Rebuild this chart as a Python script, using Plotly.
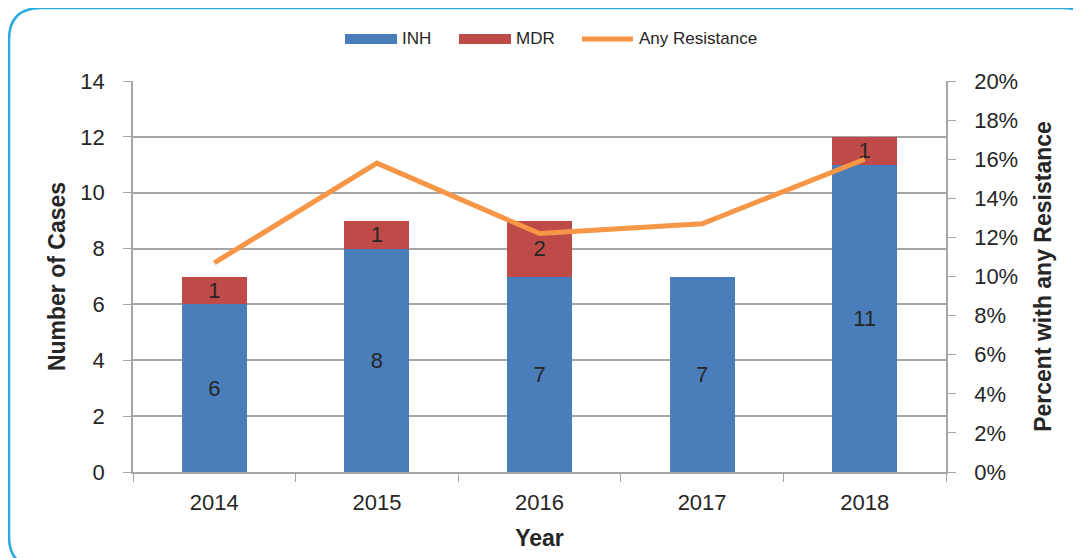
import plotly.graph_objects as go

years = ["2014", "2015", "2016", "2017", "2018"]
inh = [6, 8, 7, 7, 11]
mdr = [1, 1, 2, 0, 1]
any_res = [0.107, 0.158, 0.122, 0.127, 0.160]

FONT = "Liberation Sans"
TXT = "#262626"
GRID = "#A6A6A6"

# page offset (body margin) of 8px: reference px -> figure px
OFF = 8
PL, PR, PT, PB = 133 - OFF, 946 - OFF, 81 - OFF, 472 - OFF
W, H = 1081, 558
PW, PH = PR - PL, PB - PT


def px(xref):
    return (xref - OFF - PL) / PW


def py(yref):
    return (PB - (yref - OFF)) / PH


fig = go.Figure()
fig.add_trace(go.Bar(
    x=years, y=inh, name="INH", marker=dict(color="#4A7EBB", line=dict(width=0)),
    text=[str(v) for v in inh], textposition="inside", insidetextanchor="middle",
    textangle=0, constraintext="none",
    textfont=dict(family=FONT, size=22, color=TXT), showlegend=False,
))
fig.add_trace(go.Bar(
    x=years, y=mdr, name="MDR", marker=dict(color="#BE4B48", line=dict(width=0)),
    text=[str(v) if v else "" for v in mdr], textposition="inside", insidetextanchor="middle",
    textangle=0, constraintext="none",
    textfont=dict(family=FONT, size=22, color=TXT), showlegend=False,
))
fig.add_trace(go.Scatter(
    x=years, y=any_res, name="Any Resistance", mode="lines", yaxis="y2",
    line=dict(color="#F79646", width=5), showlegend=False,
))

# rounded frame (page coords)
fx0, fy0, fx1, fy1, r = 9, 8, 1095, 568, 32
frame = ("M {a},{b} L {a},{c} Q {a},{d} {e},{d} L {f},{d} Q {g},{d} {g},{c} "
         "L {g},{b} Q {g},{h} {f},{h} L {e},{h} Q {a},{h} {a},{b} Z").format(
    a=px(fx0), b=py(fy1 - r), c=py(fy0 + r), d=py(fy0), e=px(fx0 + r),
    f=px(fx1 - r), g=px(fx1), h=py(fy1))

shapes = [
    dict(type="rect", xref="paper", yref="paper", x0=px(345), x1=px(397),
         y0=py(44), y1=py(34), fillcolor="#4A7EBB", line=dict(width=0)),
    dict(type="rect", xref="paper", yref="paper", x0=px(459), x1=px(511),
         y0=py(44), y1=py(34), fillcolor="#BE4B48", line=dict(width=0)),
    dict(type="line", xref="paper", yref="paper", x0=px(582), x1=px(633),
         y0=py(39), y1=py(39), line=dict(color="#F79646", width=5)),
    dict(type="path", xref="paper", yref="paper", path=frame,
         line=dict(color="#29ABE2", width=2.5)),
]
annotations = [
    dict(text=t, x=px(xx), y=py(39), xref="paper", yref="paper",
         xanchor="left", yanchor="middle", showarrow=False,
         font=dict(family=FONT, size=17, color=TXT))
    for t, xx in [("INH", 400), ("MDR", 514), ("Any Resistance", 637)]
]

fig.update_layout(
    width=W, height=H,
    margin=dict(l=PL, r=W - PR, t=PT, b=H - PB, autoexpand=False),
    paper_bgcolor="white", plot_bgcolor="white",
    barmode="stack", bargap=0.6,
    font=dict(family=FONT, color=TXT),
    shapes=shapes, annotations=annotations,
    xaxis=dict(
        title=dict(text="<b>Year</b>", font=dict(family=FONT, size=23, color=TXT), standoff=16),
        tickfont=dict(family=FONT, size=22, color=TXT), ticklabelstandoff=10,
        showline=True, linecolor=GRID, linewidth=1.5,
        ticks="outside", ticklen=8, tickcolor=GRID, tickson="boundaries",
        showgrid=False,
    ),
    yaxis=dict(
        title=dict(text="<b>Number of Cases</b>", font=dict(family=FONT, size=23, color=TXT), standoff=8),
        range=[0, 14], dtick=2, tickfont=dict(family=FONT, size=22, color=TXT), ticklabelstandoff=14,
        showline=True, linecolor=GRID, linewidth=1.5,
        ticks="outside", ticklen=8, tickcolor=GRID,
        showgrid=True, gridcolor=GRID, gridwidth=1.5, zeroline=False,
    ),
    yaxis2=dict(
        title=dict(text="<b>Percent with any Resistance</b>", font=dict(family=FONT, size=23, color=TXT), standoff=18),
        overlaying="y", side="right", range=[0, 0.2], dtick=0.02, tickformat=".0%",
        tickfont=dict(family=FONT, size=22, color=TXT), ticklabelstandoff=14,
        showline=True, linecolor=GRID, linewidth=1.5,
        ticks="outside", ticklen=8, tickcolor=GRID,
        showgrid=False, zeroline=False,
    ),
)

fig.write_html("out.html")
